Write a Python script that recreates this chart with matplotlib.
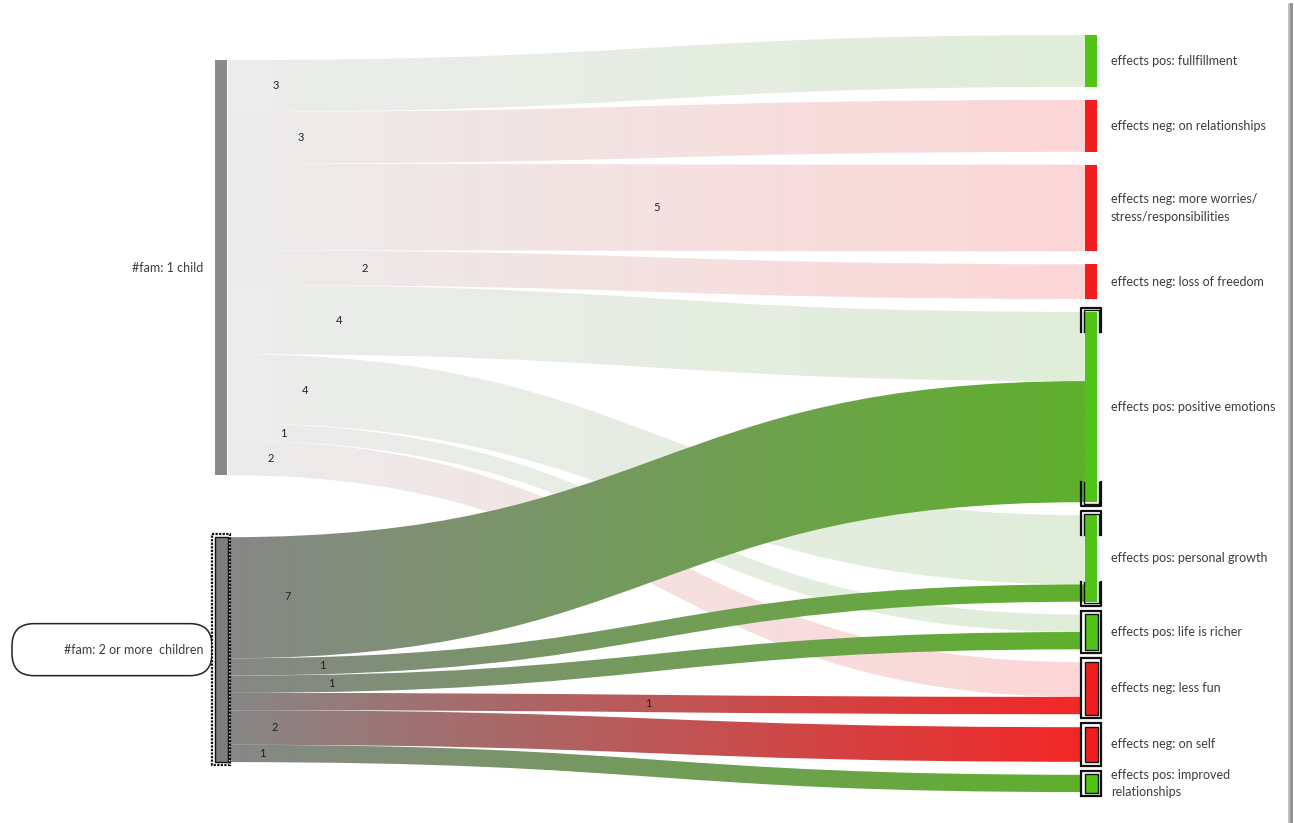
import numpy as np
import matplotlib
matplotlib.use("Agg")
import matplotlib.pyplot as plt
from matplotlib.path import Path
from matplotlib.patches import PathPatch, Rectangle, FancyBboxPatch
from matplotlib.colors import to_rgb

plt.rcParams['font.family'] = ['Lato', 'DejaVu Sans']

# data
sources = ["#fam: 1 child", "#fam: 2 or more  children"]
targets = ["effects pos: fullfillment",
           "effects neg: on relationships",
           "effects neg: more worries/\nstress/responsibilities",
           "effects neg: loss of freedom",
           "effects pos: positive emotions",
           "effects pos: personal growth",
           "effects pos: life is richer",
           "effects neg: less fun",
           "effects neg: on self",
           "effects pos: improved\nrelationships"]
flow_src = [0, 0, 0, 0, 0, 0, 0, 0, 1, 1, 1, 1, 1, 1]
flow_tgt = [0, 1, 2, 3, 4, 5, 6, 7, 4, 5, 6, 7, 8, 9]
flow_val = [3, 3, 5, 2, 4, 4, 1, 2, 7, 1, 1, 1, 2, 1]
selected = 1  # highlighted source node

# layout / style
W, H = 1294, 823
X_LEFT, X_RIGHT, NODE_W = 215, 1085, 12
TOP_L, GAP_L, TOP_R, GAP_R = 60, 62, 35, 13
K = 17.3  # px per unit
label_frac = [0.056, 0.085, 0.5, 0.16, 0.13, 0.09, 0.065, 0.05,
              0.07, 0.11, 0.12, 0.49, 0.055, 0.04]
GREEN, RED = '#4fc414', '#f21d1d'
LINK_GREEN, LINK_RED, LINK_GRAY = '#5fb02d', '#f42626', '#878787'
PALE_GREEN, PALE_RED, PALE_GRAY = '#e0eed9', '#fdd6d6', '#ececec'
FS = 9

is_pos = ['pos' in t.split(':')[0] for t in targets]

src_tot = [sum(v for s, v in zip(flow_src, flow_val) if s == i) for i in range(len(sources))]
tgt_tot = [sum(v for t, v in zip(flow_tgt, flow_val) if t == j) for j in range(len(targets))]

src_y = []
y = TOP_L
for tot in src_tot:
    src_y.append(y)
    y += tot * K + GAP_L
tgt_y = []
y = TOP_R
for tot in tgt_tot:
    tgt_y.append(y)
    y += tot * K + GAP_R

# offsets of each flow at both ends
n = len(flow_val)
y0 = [0] * n
y1 = [0] * n
off = list(src_y)
for i in sorted(range(n), key=lambda i: (flow_src[i], flow_tgt[i])):
    y0[i] = off[flow_src[i]]
    off[flow_src[i]] += flow_val[i] * K
off = list(tgt_y)
for i in sorted(range(n), key=lambda i: (flow_tgt[i], flow_src[i])):
    y1[i] = off[flow_tgt[i]]
    off[flow_tgt[i]] += flow_val[i] * K

fig = plt.figure(figsize=(W / 100, H / 100), dpi=100)
ax = fig.add_axes([0, 0, 1, 1])
ax.axis('off')

xa = X_LEFT + NODE_W + 1
xb = X_RIGHT
xm = (xa + xb) / 2
targets_sel = set(flow_tgt[i] for i in range(n) if flow_src[i] == selected)

order = [i for i in range(n) if flow_src[i] != selected] + [i for i in range(n) if flow_src[i] == selected]
for i in order:
    h = flow_val[i] * K
    a, b = y0[i], y1[i]
    verts = [(xa, a), (xm, a), (xm, b), (xb, b),
             (xb, b + h), (xm, b + h), (xm, a + h), (xa, a + h), (xa, a)]
    codes = [Path.MOVETO, Path.CURVE4, Path.CURVE4, Path.CURVE4,
             Path.LINETO, Path.CURVE4, Path.CURVE4, Path.CURVE4, Path.CLOSEPOLY]
    patch = PathPatch(Path(verts, codes), facecolor='none', edgecolor='none')
    ax.add_patch(patch)
    if flow_src[i] == selected:
        c0 = np.array(to_rgb(LINK_GRAY))
        c1 = np.array(to_rgb(LINK_GREEN if is_pos[flow_tgt[i]] else LINK_RED))
    else:
        c0 = np.array(to_rgb(PALE_GRAY))
        c1 = np.array(to_rgb(PALE_GREEN if is_pos[flow_tgt[i]] else PALE_RED))
    t = np.linspace(0, 1, 256)[:, None]
    img = (c0 * (1 - t) + c1 * t)[None, :, :]
    im = ax.imshow(img, extent=(xa, xb, max(a, b) + h + 1, min(a, b) - 1),
                   aspect='auto', interpolation='bilinear', zorder=1)
    im.set_clip_path(patch)

    # value label
    tt = np.linspace(0, 1, 500)
    bx = xa * (1 - tt) ** 3 + 3 * xm * (1 - tt) ** 2 * tt + 3 * xm * (1 - tt) * tt ** 2 + xb * tt ** 3
    by = a * (1 - tt) ** 3 + 3 * a * (1 - tt) ** 2 * tt + 3 * b * (1 - tt) * tt ** 2 + b * tt ** 3
    lx = xa + label_frac[i] * (xb - xa)
    ly = np.interp(lx, bx, by) + h / 2
    ax.text(lx, ly, str(flow_val[i]), fontsize=8, color='#222222',
            ha='center', va='center', zorder=5)

# source nodes
for k, name in enumerate(sources):
    top = src_y[k]
    h = src_tot[k] * K
    if k == selected:
        ax.add_patch(Rectangle((X_LEFT - 3, top - 3), NODE_W + 6, h + 6, facecolor='white',
                               edgecolor='#111111', lw=1.6, linestyle=(0, (1, 0.6)), zorder=3))
        ax.add_patch(Rectangle((X_LEFT, top), NODE_W + 1, h, facecolor='#7d7d7d',
                               edgecolor='#111111', lw=1.0, zorder=4))
        ax.add_patch(FancyBboxPatch((12, top + h / 2 - 26), X_LEFT - 15, 52,
                                    boxstyle='round,pad=0,rounding_size=22',
                                    facecolor='white', edgecolor='#222222', lw=1.1, zorder=2))
    else:
        ax.add_patch(Rectangle((X_LEFT, top), NODE_W, h, facecolor='#8a8a8a',
                               edgecolor='none', zorder=4))
    ax.text(X_LEFT - 12, top + h / 2, name, fontsize=FS, color='#3c3c3c',
            ha='right', va='center', zorder=5)

# target nodes
for j, name in enumerate(targets):
    top = tgt_y[j]
    h = tgt_tot[j] * K
    col = GREEN if is_pos[j] else RED
    if j in targets_sel:
        if h > 80:
            s = 20
            for yy, sg in ((top, 1), (top + h, -1)):
                for d, lw in ((4, 1.6), (1.5, 1.0)):
                    ax.plot([X_RIGHT - d, X_RIGHT - d, X_RIGHT + NODE_W + d, X_RIGHT + NODE_W + d],
                            [yy + sg * s, yy - sg * d, yy - sg * d, yy + sg * s],
                            color='#111111', lw=lw, zorder=4)
            ax.add_patch(Rectangle((X_RIGHT, top), NODE_W, h, facecolor=col,
                                   edgecolor='none', zorder=3))
        else:
            ax.add_patch(Rectangle((X_RIGHT - 4, top - 4), NODE_W + 8, h + 8, facecolor='white',
                                   edgecolor='#111111', lw=1.6, zorder=3))
            ax.add_patch(Rectangle((X_RIGHT - 0.5, top - 0.5), NODE_W + 1, h + 1, facecolor=col,
                                   edgecolor='#111111', lw=1.0, zorder=4))
    else:
        ax.add_patch(Rectangle((X_RIGHT, top), NODE_W, h, facecolor=col,
                               edgecolor='none', zorder=3))
    ax.text(X_RIGHT + NODE_W + 14, top + h / 2, name, fontsize=FS, color='#3c3c3c',
            ha='left', va='center', linespacing=1.55, zorder=5)

# frame shadow on the right
ax.plot([1289, 1289], [4, H], color='#b4b4b4', lw=1.2, zorder=6)
ax.plot([1291, 1291], [4, H], color='#8c8c8c', lw=2.0, zorder=6)

ax.set_xlim(0, W)
ax.set_ylim(H, 0)
fig.savefig('out.png', dpi=100, facecolor='white')
